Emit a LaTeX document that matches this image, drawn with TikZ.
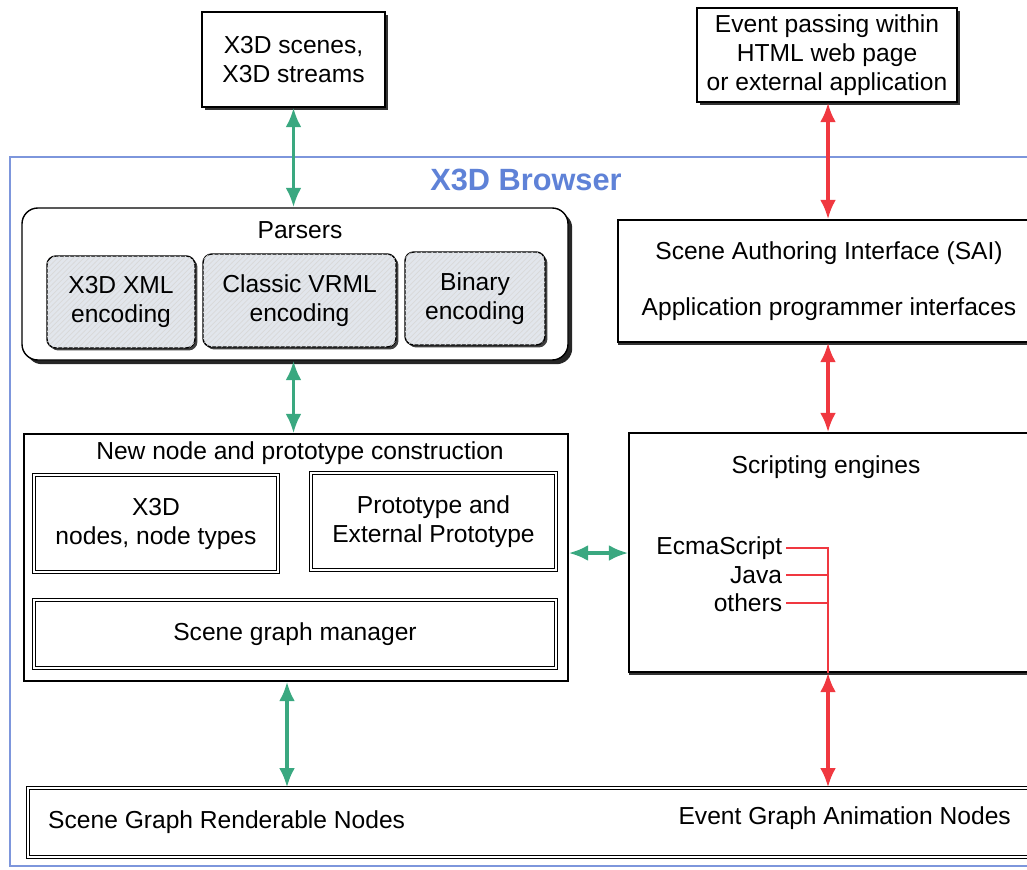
\documentclass[tikz,border=0pt]{standalone}
\usepackage{fontspec}
\setmainfont{Liberation Sans}
\usetikzlibrary{arrows.meta,shadows,patterns}

\definecolor{linkgreen}{RGB}{58,168,128}
\definecolor{linkred}{RGB}{240,56,64}
\definecolor{frameblue}{RGB}{125,150,220}
\definecolor{titleblue}{RGB}{95,130,215}
\definecolor{encfill}{RGB}{226,230,236}

\tikzset{
  px/.style={x=0.02cm, y=-0.02cm},
  size/.style 2 args={minimum width=#1*0.02cm, minimum height=#2*0.02cm},
  box/.style={draw, thick, fill=white, inner sep=0pt, align=center},
  shadowed/.style={drop shadow={shadow xshift=1.6pt, shadow yshift=-1.6pt, fill=black!80, opacity=1}},
  encbox/.style={box, rounded corners=5pt,
    drop shadow={shadow xshift=1.4pt, shadow yshift=-1.4pt, fill=black!75, opacity=1},
    fill=encfill, postaction={pattern=north east lines, pattern color=gray!30}},
  dbox/.style={draw, double, double distance=1.4pt, line width=0.6pt, fill=white, inner sep=0pt, align=center},
  glink/.style={linkgreen, line width=2pt, {Latex[length=11pt,width=9pt]}-{Latex[length=11pt,width=9pt]}},
  rlink/.style={linkred, line width=2pt, {Latex[length=11pt,width=9pt]}-{Latex[length=11pt,width=9pt]}},
  every node/.style={font=\fontsize{14}{16.5}\selectfont}
}

\begin{document}
\begin{tikzpicture}[px]
  \useasboundingbox (0,0) rectangle (1027,869);
  \clip (0,0) rectangle (1027,869);

  % Outside sources
  \node[box, shadowed, size={183}{95}] (src) at (293.5,59.5) {X3D scenes,\\X3D streams};
  \node[box, shadowed, size={260}{94}] (event) at (827,55) {Event passing within\\HTML web page\\or external application};

  % Browser frame
  \draw[frameblue, line width=0.8pt] (1040,157) -- (10,157) -- (10,866) -- (1040,866);
  \node[text=titleblue, font=\fontsize{17.5}{20}\selectfont\bfseries] (browser) at (526,180) {X3D Browser};

  % Parsers
  \node[box, rounded corners=9pt, size={546}{152},
    drop shadow={shadow xshift=2.4pt, shadow yshift=-2.4pt, fill=black!85, opacity=1}] (parsers) at (295,284) {};
  \node (parsers-title) at (300,230) {Parsers};
  \node[encbox, size={148}{92}] (xml) at (121,302) {X3D XML\\encoding};
  \node[encbox, size={193}{93}] (vrml) at (299.5,300.5) {Classic VRML\\encoding};
  \node[encbox, size={140}{93}] (binary) at (475,298.5) {Binary\\encoding};

  % Node construction
  \node[box, size={544}{247}] (newnode) at (296,557.5) {};
  \node (newnode-title) at (300,453) {New node and prototype construction};
  \node[dbox, size={244}{97}] (x3dnodes) at (156,523.5) {X3D\\nodes, node types};
  \node[dbox, size={245}{97}] (proto) at (433.5,521.5) {Prototype and\\External Prototype};
  \node[dbox, size={522}{68}] (sgm) at (295,634) {Scene graph manager};

  % SAI and scripting
  \node[box, size={422}{122}, drop shadow={shadow xshift=0pt, shadow yshift=-1.6pt, fill=black!80, opacity=1}]
    (sai) at (829,281) {Scene Authoring Interface (SAI)\\[15pt]Application programmer interfaces};
  \node[box, size={411}{239}, drop shadow={shadow xshift=0pt, shadow yshift=-1.6pt, fill=black!80, opacity=1}]
    (script) at (834.5,552.5) {};
  \node (script-title) at (826,467) {Scripting engines};
  \node[anchor=east, inner sep=2pt] (ecma) at (786,548) {EcmaScript};
  \node[anchor=east, inner sep=2pt] (java) at (786,575) {Java};
  \node[anchor=east, inner sep=2pt] (others) at (786,603) {others};
  \coordinate (jn) at (828,548);

  % Renderable and animation nodes
  \node[dbox, size={1012}{69}] (render) at (534,822.5) {};
  \node[anchor=west] (render-left) at (42,822) {Scene Graph Renderable Nodes};
  \node[anchor=east] (render-right) at (1017,818) {Event Graph Animation Nodes};

  % Green links
  \draw[glink] (src.south) -- (src.south |- parsers.north);
  \draw[glink] (parsers.south -| src.south) -- (newnode.north -| src.south);
  \draw[glink] (newnode.east |- 0,553) -- (script.west |- 0,553);
  \draw[glink] (newnode.south -| 287,0) -- (render.north -| 287,0);

  % Red links
  \draw[rlink] (event.south -| jn) -- (sai.north -| jn);
  \draw[rlink] (sai.south -| jn) -- (script.north -| jn);
  \draw[linkred, line width=0.9pt] (ecma.east) -- (jn) -- (jn |- script.south);
  \draw[linkred, line width=0.9pt] (java.east) -- (java.east -| jn);
  \draw[linkred, line width=0.9pt] (others.east) -- (others.east -| jn);
  \draw[rlink] (script.south -| jn) -- (render.north -| jn);
\end{tikzpicture}
\end{document}
